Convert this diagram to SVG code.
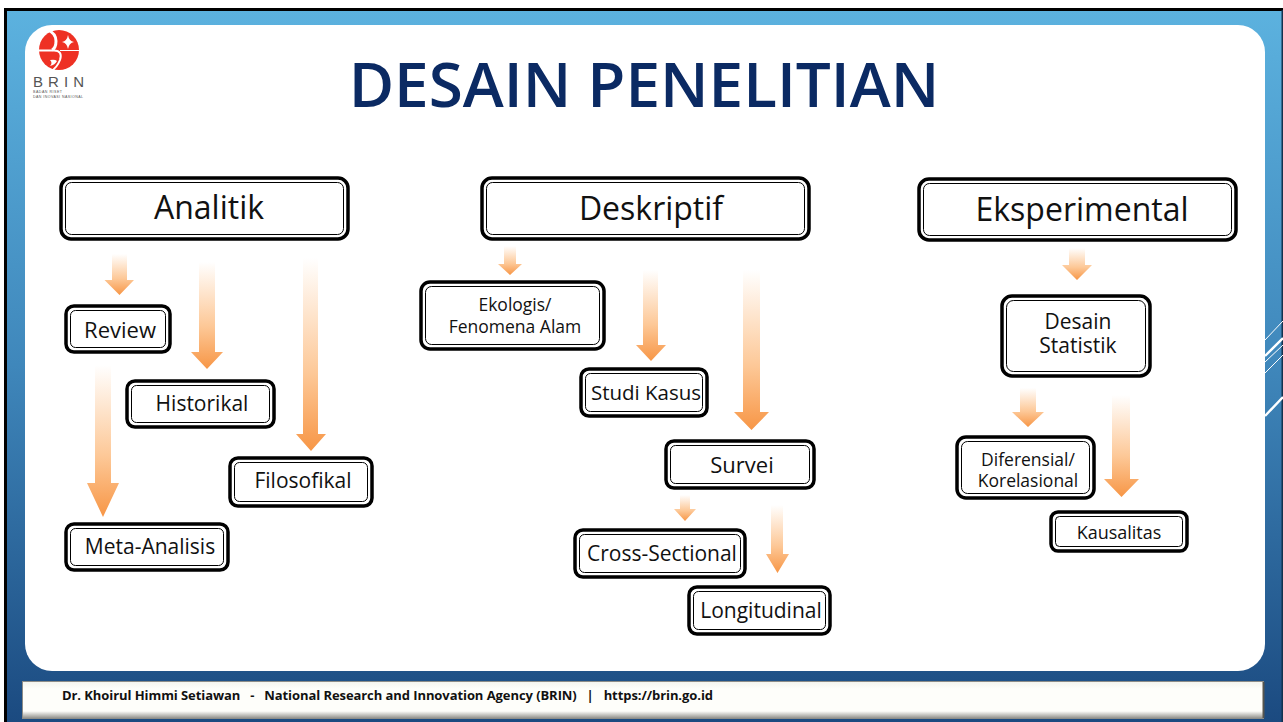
<svg xmlns="http://www.w3.org/2000/svg" width="1283" height="722" viewBox="0 0 1283 722">
<defs>
<linearGradient id="bg" x1="0" y1="0" x2="0" y2="1"><stop offset="0" stop-color="#5cb2df"/><stop offset="0.5" stop-color="#3f87bb"/><stop offset="1" stop-color="#1b4a80"/></linearGradient>
<linearGradient id="ar" x1="0" y1="0" x2="0" y2="1"><stop offset="0" stop-color="#ffffff"/><stop offset="0.6" stop-color="#fdc897"/><stop offset="1" stop-color="#f79646"/></linearGradient>
<linearGradient id="foot" x1="0" y1="0" x2="0" y2="1"><stop offset="0" stop-color="#f4f4ee"/><stop offset="0.2" stop-color="#fefefa"/><stop offset="0.8" stop-color="#fefefa"/><stop offset="1" stop-color="#8d8d88"/></linearGradient>
</defs>
<style>
.o{fill:#fff;stroke:#000;stroke-width:3.5}
.i{fill:#fff;stroke:#000;stroke-width:1}
.t{font-family:"Open Sans","Noto Sans",sans-serif;fill:#111;text-anchor:middle}
.a{fill:url(#ar)}
</style>
<rect width="1283" height="722" fill="#fff"/>
<rect x="4" y="8" width="1279" height="714" fill="url(#bg)"/>
<path d="M5.5 722V9.5H1283" fill="none" stroke="#000" stroke-width="3"/>
<rect x="1281.5" y="10" width="1.5" height="712" fill="#12324f"/>
<rect x="25" y="25" width="1240" height="646" rx="27" fill="#fff"/>
<g stroke="#fff" fill="none">
<path d="M1265 340L1283 321M1265 362L1283 345M1265 373L1283 355" stroke-width="1"/>
<path d="M1265 356L1283 338M1265 416L1283 397" stroke-width="2.4"/>
</g>
<g id="logo">
<circle cx="59" cy="50" r="20" fill="#ee3124"/>
<path d="M38 50.5H54C60 50.5 62 54 60 60C58 65 55 69 51 71" fill="none" stroke="#fff" stroke-width="2"/>
<path d="M60 50.5H80" stroke="#fff" stroke-width="1"/>
<path d="M47 29C53 32 56 36 56 41C56 46 54 49 52 50" fill="none" stroke="#fff" stroke-width="3"/>
<path d="M68 35Q69 41 74 42Q69 43 68 49Q67 43 62 42Q67 41 68 35Z" fill="#fff"/>
<path d="M50 60Q55 59 57 61Q55 65 50 66Q53 63 50 60Z" fill="#fff"/>
<text x="33" y="87" font-family="'Liberation Sans',sans-serif" font-size="15" fill="#555" textLength="51">BRIN</text>
<text x="33" y="93" font-family="'Liberation Sans',sans-serif" font-size="3.6" fill="#555" textLength="29">BADAN RISET</text>
<text x="33" y="98" font-family="'Liberation Sans',sans-serif" font-size="3.6" fill="#555" textLength="50">DAN INOVASI NASIONAL</text>
</g>
<text id="title" x="644" y="107" font-family="'Open Sans','Noto Sans',sans-serif" font-weight="600" font-size="62" fill="#0b2a63" text-anchor="middle">DESAIN PENELITIAN</text>
<g id="connectors">
<path class="a" d="M112 254H127V280H134L119.500 295L104.500 280H112Z"/>
<path class="a" d="M199 262H215V352H223L207 369L191 352H199Z"/>
<path class="a" d="M303 258H318V434H326L311 451L296 434H303Z"/>
<path class="a" d="M95 365H111V483H119L103 517L87 483H95Z"/>
<path class="a" d="M504 246H516V264H522L510 275L498 264H504Z"/>
<path class="a" d="M643 270H658V345H666L651 361L636 345H643Z"/>
<path class="a" d="M743 270H760V412H769L751.500 430L734 412H743Z"/>
<path class="a" d="M680 495H690V509H696L685 521L674 509H680Z"/>
<path class="a" d="M771 505H783V554H789L777.500 573L766 554H771Z"/>
<path class="a" d="M1069 248H1085V265H1092L1077 280L1062 265H1069Z"/>
<path class="a" d="M1020 388H1036V412H1044L1028 427L1012 412H1020Z"/>
<path class="a" d="M1112 395H1130V479H1139L1121.500 497L1104 479H1112Z"/>
</g>
<g id="n-analitik"><rect class="o" x="61" y="178" width="287" height="61" rx="10"/><rect class="i" x="65.500" y="182.500" width="278" height="52" rx="6"/><text class="t" x="209" y="219" font-size="32">Analitik</text></g>
<g id="n-deskriptif"><rect class="o" x="482" y="178" width="327" height="61" rx="10"/><rect class="i" x="486.500" y="182.500" width="318" height="52" rx="6"/><text class="t" x="651" y="220" font-size="32">Deskriptif</text></g>
<g id="n-eksperimental"><rect class="o" x="919" y="179" width="317" height="61" rx="10"/><rect class="i" x="923.500" y="183.500" width="308" height="52" rx="6"/><text class="t" x="1082" y="221" font-size="32">Eksperimental</text></g>
<g id="n-review"><rect class="o" x="66" y="306" width="104" height="46" rx="8"/><rect class="i" x="70.500" y="310.500" width="95" height="37" rx="5"/><text class="t" x="120" y="338" font-size="22">Review</text></g>
<g id="n-historikal"><rect class="o" x="127" y="381" width="147" height="46" rx="8"/><rect class="i" x="131.500" y="385.500" width="138" height="37" rx="5"/><text class="t" x="202" y="411" font-size="21">Historikal</text></g>
<g id="n-filosofikal"><rect class="o" x="230" y="458" width="142" height="48" rx="8"/><rect class="i" x="234.500" y="462.500" width="133" height="39" rx="5"/><text class="t" x="303" y="488" font-size="21">Filosofikal</text></g>
<g id="n-meta"><rect class="o" x="66" y="524" width="162" height="46" rx="8"/><rect class="i" x="70.500" y="528.500" width="153" height="37" rx="5"/><text class="t" x="150" y="554" font-size="21">Meta-Analisis</text></g>
<g id="n-ekologis"><rect class="o" x="421" y="282" width="183" height="67" rx="9"/><rect class="i" x="425.500" y="286.500" width="174" height="58" rx="6"/><text class="t" x="515" y="311" font-size="17.500">Ekologis/</text><text class="t" x="515" y="333" font-size="17.500">Fenomena Alam</text></g>
<g id="n-studi"><rect class="o" x="581" y="369" width="126" height="47" rx="8"/><rect class="i" x="585.500" y="373.500" width="117" height="38" rx="5"/><text class="t" x="646" y="400" font-size="20.500">Studi Kasus</text></g>
<g id="n-survei"><rect class="o" x="666" y="441" width="148" height="47" rx="8"/><rect class="i" x="670.500" y="445.500" width="139" height="38" rx="5"/><text class="t" x="742" y="473" font-size="22">Survei</text></g>
<g id="n-cross"><rect class="o" x="575" y="530" width="170" height="47" rx="8"/><rect class="i" x="579.500" y="534.500" width="161" height="38" rx="5"/><text class="t" x="662" y="561" font-size="21">Cross-Sectional</text></g>
<g id="n-longitudinal"><rect class="o" x="689" y="587" width="141" height="47" rx="8"/><rect class="i" x="693.500" y="591.500" width="132" height="38" rx="5"/><text class="t" x="761" y="618" font-size="21">Longitudinal</text></g>
<g id="n-desain"><rect class="o" x="1002" y="296" width="148" height="80" rx="10"/><rect class="i" x="1006.500" y="300.500" width="139" height="71" rx="7"/><text class="t" x="1078" y="329" font-size="21">Desain</text><text class="t" x="1078" y="353" font-size="21">Statistik</text></g>
<g id="n-diferensial"><rect class="o" x="957" y="437" width="137" height="61" rx="9"/><rect class="i" x="961.500" y="441.500" width="128" height="52" rx="6"/><text class="t" x="1028" y="466" font-size="17.500">Diferensial/</text><text class="t" x="1028" y="487" font-size="17.500">Korelasional</text></g>
<g id="n-kausalitas"><rect class="o" x="1051" y="512" width="136" height="39" rx="7"/><rect class="i" x="1055.500" y="516.500" width="127" height="30" rx="4"/><text class="t" x="1119" y="539" font-size="18">Kausalitas</text></g>
<g id="footer">
<rect x="22.500" y="681.500" width="1241" height="37" fill="url(#foot)" stroke="#8d8d88"/>
<path d="M1263.500 682V718" stroke="#55554f" stroke-width="2"/>
<text x="62" y="700" font-family="'Open Sans','Noto Sans',sans-serif" font-weight="700" font-size="13" fill="#111" xml:space="preserve" textLength="651">Dr. Khoirul Himmi Setiawan   -   National Research and Innovation Agency (BRIN)   |   https://brin.go.id</text>
</g>
</svg>
